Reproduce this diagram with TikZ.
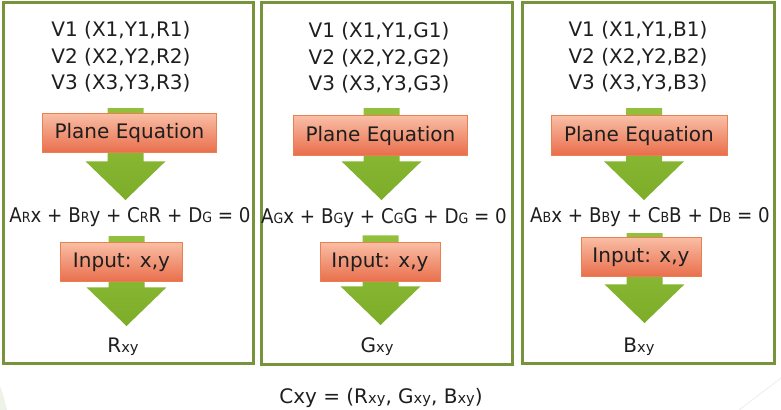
\documentclass[tikz,border=0pt]{standalone}
\usepackage{fontspec}
\setmainfont{DejaVu Sans}
\newfontfamily\narrowfont[FakeStretch=0.9]{DejaVu Sans}
\usetikzlibrary{calc}

\definecolor{framegreen}{RGB}{119,147,60}
\definecolor{arrowtop}{RGB}{146,192,60}
\definecolor{arrowbot}{RGB}{124,172,40}
\definecolor{boxtop}{RGB}{249,190,165}
\definecolor{boxbot}{RGB}{233,110,76}
\definecolor{boxline}{RGB}{232,128,80}
\definecolor{inktext}{RGB}{30,30,30}

% kleine Indizes auf der Grundlinie
\newcommand{\lo}[2][10.5]{{\fontsize{#1}{12}\selectfont #2}}

% dicker gruener Pfeil: von Knoten #1 nach Knoten #2, Abstand #3 unter #1, #4 ueber #2
\newcommand{\fatarrow}[4]{%
  \shade[top color=arrowtop, bottom color=arrowbot]
    let \p1=(#1.center), \p2=(#2.center), \p3=($(#1.center)!0.5!(#2.center)$) in
    (\x3-13.5pt,\y1-#3) -- (\x3+13.5pt,\y1-#3) -- (\x3+13.5pt,\y2+#4+29pt)
    -- (\x3+30pt,\y2+#4+29pt) -- (\x3,\y2+#4) -- (\x3-30pt,\y2+#4+29pt)
    -- (\x3-13.5pt,\y2+#4+29pt) -- cycle;}

\begin{document}
\begin{tikzpicture}[x=0.75pt, y=-0.75pt,
    frame/.style={draw=framegreen, line width=2.25pt},
    verts/.style={inner sep=0pt, align=center, text=inktext, font=\fontsize{15}{20}\selectfont},
    eqn/.style={inner sep=0pt, text=inktext, font=\narrowfont\fontsize{15.2}{17}\selectfont},
    result/.style={inner sep=0pt, text=inktext, font=\fontsize{15}{17}\selectfont},
    orangebox/.style={rectangle, draw=boxline, line width=0.6pt, top color=boxtop, bottom color=boxbot,
      minimum height=29.5pt, inner sep=0pt, text=inktext, font=\fontsize{15}{18}\selectfont}
  ]
  \useasboundingbox (0,0) rectangle (781,410);

  % --- Rahmen ---
  \draw[frame] (3,3) rectangle (253,363);
  \draw[frame] (261,3) rectangle (512,364);
  \draw[frame] (522,3) rectangle (774,363);

  % --- Hintergrund-Reste der Folie ---
  \fill[framegreen!30, opacity=0.4] (0,410) -- (0,386) .. controls (3,394) .. (7,410) -- cycle;
  \draw[gray!12, line width=0.8pt] (739,410) -- (781,378);

  % --- R ---
  \node[verts] (vertsR) at (121,57) {V1 (X1,Y1,R1)\\V2 (X2,Y2,R2)\\V3 (X3,Y3,R3)};
  \node[eqn] (eqR) at (130,217) {A\lo{R}x + B\lo{R}y + C\lo{R}R + D\lo{G} = 0};
  \node[result] (resR) at (123,347) {R\lo[11]{xy}};
  \fatarrow{vertsR}{eqR}{38.25pt}{12.75pt}
  \fatarrow{eqR}{resR}{14.25pt}{15.75pt}
  \node[orangebox, minimum width=131pt] (planeR) at (129.5,133) {Plane Equation};
  \node[orangebox, minimum width=91pt] (inputR) at (121.5,262) {Input: x,y};

  % --- G ---
  \node[verts] (vertsG) at (379,58) {V1 (X1,Y1,G1)\\V2 (X2,Y2,G2)\\V3 (X3,Y3,G3)};
  \node[eqn] (eqG) at (384,218) {A\lo{G}x + B\lo{G}y + C\lo{G}G + D\lo{G} = 0};
  \node[result] (resG) at (377,347) {G\lo[11]{xy}};
  \fatarrow{vertsG}{eqG}{37.5pt}{13.5pt}
  \fatarrow{eqG}{resG}{13pt}{16.5pt}
  \node[orangebox, minimum width=131pt] (planeG) at (380.5,135.5) {Plane Equation};
  \node[orangebox, minimum width=90pt] (inputG) at (380,262) {Input: x,y};

  % --- B ---
  \node[verts] (vertsB) at (638,57) {V1 (X1,Y1,B1)\\V2 (X2,Y2,B2)\\V3 (X3,Y3,B3)};
  \node[eqn] (eqB) at (650,217) {A\lo{B}x + B\lo{B}y + C\lo{B}B + D\lo{B} = 0};
  \node[result] (resB) at (639,347) {B\lo[11]{xy}};
  \fatarrow{vertsB}{eqB}{38.25pt}{12.75pt}
  \fatarrow{eqB}{resB}{12pt}{18pt}
  \node[orangebox, minimum width=132pt] (planeB) at (639,135.5) {Plane Equation};
  \node[orangebox, minimum width=90pt] (inputB) at (641,257) {Input: x,y};

  % --- Ergebnis ---
  \node[result] (cxy) at (381,398) {Cxy = (R\lo[11]{xy}, G\lo[11]{xy}, B\lo[11]{xy})};
\end{tikzpicture}
\end{document}
